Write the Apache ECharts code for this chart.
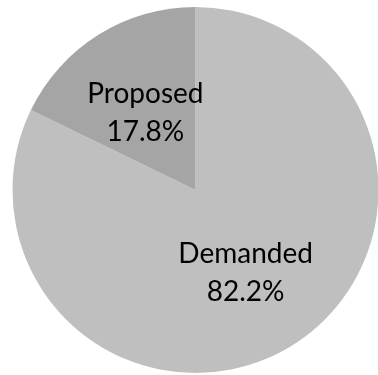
<!DOCTYPE html>
<html>
<head>
<meta charset="utf-8">
<script src="https://cdn.jsdelivr.net/npm/echarts@6/dist/echarts.min.js"></script>
<style>
  html, body { margin: 0; padding: 0; background: #ffffff; }
  #chart { width: 378px; height: 375px; }
</style>
</head>
<body>
<div id="chart"></div>
<script>
// Share of items by status (percent)
const categories = ['Demanded', 'Proposed'];
const shares = [82.2, 17.8];
const sliceColors = ['#BFBFBF', '#A5A5A5'];

const chart = echarts.init(document.getElementById('chart'), null, { renderer: 'canvas' });

chart.setOption({
  backgroundColor: '#ffffff',
  animation: false,
  series: [{
    type: 'pie',
    center: [195.5, 190],
    radius: [0, 183],
    startAngle: 90,
    clockwise: true,
    silent: true,
    data: categories.map((name, i) => ({
      name: name,
      value: shares[i],
      itemStyle: { color: sliceColors[i] }
    })),
    itemStyle: { borderWidth: 0 },
    label: {
      show: true,
      position: 'inside',
      color: '#000000',
      fontFamily: 'Lato, sans-serif',
      fontSize: 28,
      lineHeight: 38,
      align: 'center',
      offset: [0, 3],
      formatter: p => p.name + '\n' + p.value.toFixed(1) + '%'
    },
    labelLine: { show: false },
    emphasis: { disabled: true }
  }]
});
</script>
</body>
</html>
